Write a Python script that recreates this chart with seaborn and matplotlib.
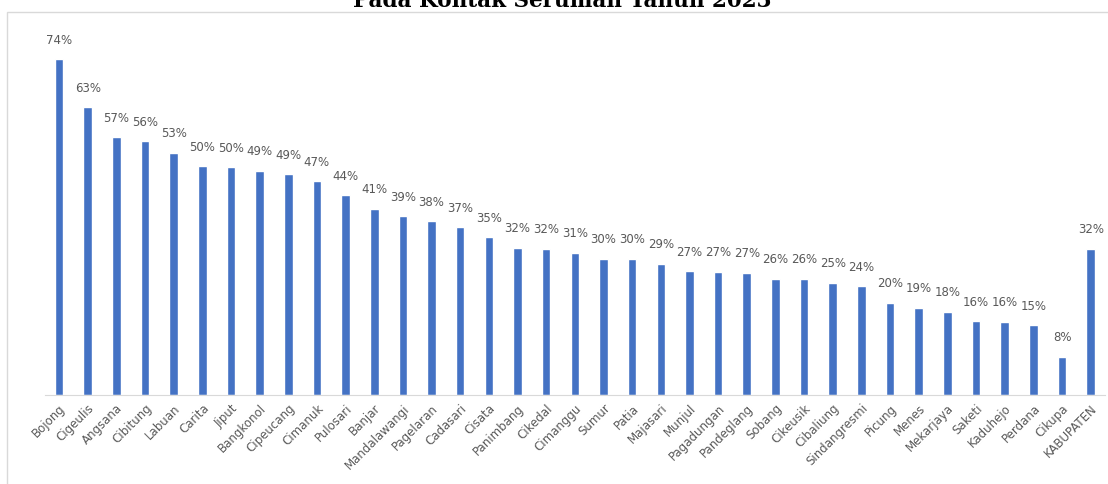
import numpy as np
import pandas as pd
import seaborn as sns
import matplotlib.pyplot as plt
from matplotlib.ticker import FixedLocator
from matplotlib.patches import Rectangle

kecamatan = ['Bojong', 'Cigeulis', 'Angsana', 'Cibitung', 'Labuan', 'Carita', 'Jiput',
             'Bangkonol', 'Cipeucang', 'Cimanuk', 'Pulosari', 'Banjar', 'Mandalawangi',
             'Pagelaran', 'Cadasari', 'Cisata', 'Panimbang', 'Cikedal', 'Cimanggu',
             'Sumur', 'Patia', 'Majasari', 'Munjul', 'Pagadungan', 'Pandeglang', 'Sobang',
             'Cikeusik', 'Cibaliung', 'Sindangresmi', 'Picung', 'Menes', 'Mekarjaya',
             'Saketi', 'Kaduhejo', 'Perdana', 'Cikupa', 'KABUPATEN']
persen = [74.0, 63.4, 56.8, 55.9, 53.4, 50.4, 50.2, 49.4, 48.7, 47.1, 44.0, 41.0, 39.4,
          38.3, 37.0, 34.8, 32.4, 32.2, 31.3, 30.0, 30.0, 28.9, 27.3, 27.2, 26.9, 25.6,
          25.6, 24.7, 24.0, 20.3, 19.2, 18.3, 16.3, 16.1, 15.4, 8.4, 32.2]

df = pd.DataFrame({'kecamatan': kecamatan, 'persen': persen})

sns.set_style('white')
plt.rcParams['font.family'] = ['DejaVu Sans']

fig = plt.figure(figsize=(11.08, 4.84), dpi=100)
ax = fig.add_axes([0.0403, 0.1839, 0.957, 0.75])

sns.barplot(data=df, x='kecamatan', y='persen', color='#4472C4', width=0.3,
            saturation=1, ax=ax)

# label persen di atas batang
for i, v in enumerate(df['persen']):
    ax.annotate(f'{v:.0f}%', (i, v), xytext=(0, 9), textcoords='offset points',
                ha='center', va='bottom', fontsize=8.5, color='#595959')

ax.set_xlim(-0.5, len(df) - 0.5)
ax.set_ylim(0, 80)
ax.set_xlabel('')
ax.set_ylabel('')
ax.set_yticks([])
for s in ['top', 'right', 'left']:
    ax.spines[s].set_visible(False)
ax.spines['bottom'].set_color('#D9D9D9')

ax.set_xticks(range(len(df)))
ax.set_xticklabels(kecamatan, rotation=45, ha='right', va='top',
                   rotation_mode='anchor', fontsize=8.5, color='#595959')
ax.tick_params(axis='x', which='major', length=0, pad=5)
ax.xaxis.set_minor_locator(FixedLocator(np.arange(-0.5, len(df), 1.0)))
ax.tick_params(axis='x', which='minor', length=4, color='#D9D9D9', width=1)

# bingkai area grafik (terpotong)
fig.patches.append(Rectangle((7 / 1108, -0.1), 1.2, (484 - 12) / 484 + 0.1,
                             transform=fig.transFigure, fill=False,
                             edgecolor='#D9D9D9', linewidth=1))

# judul terpotong di bagian atas seperti aslinya
fig.text(0.507, 1 - 7 / 484, 'Pada Kontak Serumah Tahun 2023', ha='center',
         va='baseline', fontsize=15.5, fontweight='bold', family='DejaVu Serif',
         color='black')

fig.savefig('out.png', dpi=100)
